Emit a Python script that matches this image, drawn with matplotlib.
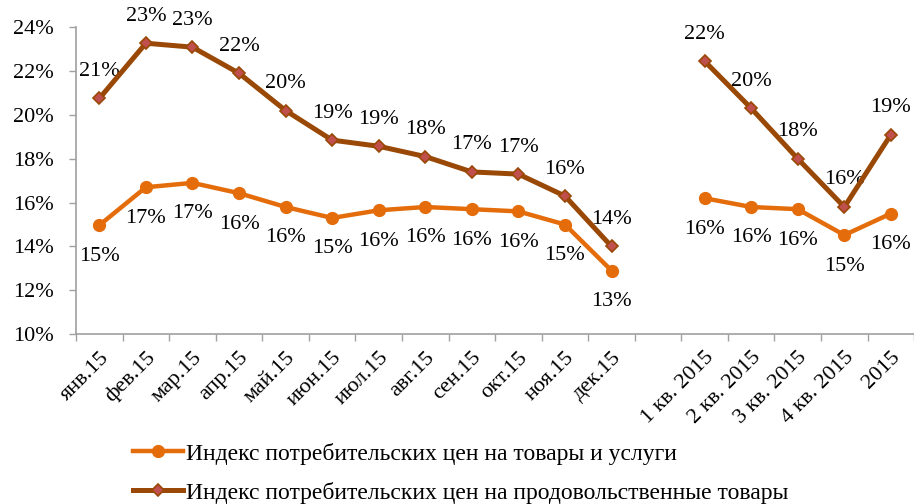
import numpy as np
import matplotlib
matplotlib.use('Agg')
import matplotlib.pyplot as plt

plt.rcParams['font.family'] = ['Liberation Serif', 'DejaVu Serif']

# categories (empty slot separates months and quarters)
categories = ['янв.15', 'фев.15', 'мар.15', 'апр.15', 'май.15', 'июн.15',
              'июл.15', 'авг.15', 'сен.15', 'окт.15', 'ноя.15', 'дек.15', '',
              '1 кв. 2015', '2 кв. 2015', '3 кв. 2015', '4 кв. 2015', '2015']

cpi_all = [14.97, 16.7, 16.9, 16.43, 15.8, 15.3, 15.65, 15.8, 15.7, 15.6, 15.0, 12.9,
           np.nan, 16.2, 15.8, 15.7, 14.52, 15.5]
cpi_food = [20.75, 23.27, 23.09, 21.9, 20.2, 18.85, 18.57, 18.1, 17.4, 17.3, 16.3, 14.0,
            np.nan, 22.45, 20.3, 18.0, 15.8, 19.1]

label_all = 'Индекс потребительских цен на товары и услуги'
label_food = 'Индекс потребительских цен на продовольственные товары'

c_all = '#E46C0A'
c_food = '#9A4805'
c_diam = '#C0504D'
FS = 16

fig = plt.figure(figsize=(9.14, 5.04), dpi=100)
ax = fig.add_axes([0.0832, 0.337, 0.917, 0.609])

x = np.arange(len(categories))
ax.plot(x, cpi_all, color=c_all, lw=3.2, marker='o', ms=8.5,
        mfc=c_all, mec=c_all, label=label_all, zorder=3)
ax.plot(x, cpi_food, color=c_food, lw=3.6, marker='D', ms=6,
        mfc=c_diam, mec=c_food, mew=1.2, label=label_food, zorder=4)


def pct(v):
    return f'{int(np.floor(v + 0.5))}%'


# data labels
for xi, v in zip(x, cpi_food):
    if np.isnan(v):
        continue
    ax.annotate(pct(v), (xi, v), xytext=(0, 27), textcoords='offset pixels',
                ha='center', va='center', fontsize=FS, color='black')
for xi, v in zip(x, cpi_all):
    if np.isnan(v):
        continue
    ax.annotate(pct(v), (xi, v), xytext=(0, -31), textcoords='offset pixels',
                ha='center', va='center', fontsize=FS, color='black')

ax.set_xlim(-0.5, len(categories) - 0.5)
ax.set_ylim(10, 24)
ax.set_yticks(np.arange(10, 25, 2))
ax.set_yticklabels([f'{t}%' for t in range(10, 25, 2)], fontsize=FS)

ax.set_xticks(x)
ax.set_xticklabels(categories, rotation=45, ha='right', va='top',
                   rotation_mode='anchor', fontsize=FS)
ax.set_xticks(np.arange(-0.5, len(categories)), minor=True)
ax.tick_params(axis='x', which='major', length=0, pad=10)
ax.tick_params(axis='x', which='minor', length=5, color='#A0A0A0', width=1)
ax.tick_params(axis='y', length=5, color='#A0A0A0', width=1, pad=11)

for s in ['top', 'right']:
    ax.spines[s].set_visible(False)
for s in ['left', 'bottom']:
    ax.spines[s].set_color('#A0A0A0')
    ax.spines[s].set_linewidth(1.2)

handles, labels = ax.get_legend_handles_labels()
fig.legend(handles, labels, loc='upper left', bbox_to_anchor=(0.1455, 0.122),
           frameon=False, fontsize=17, handlelength=2.1, handletextpad=0.15,
           labelspacing=0.72, markerscale=1.0, borderaxespad=0, borderpad=0)

fig.savefig('out.png', dpi=100)
